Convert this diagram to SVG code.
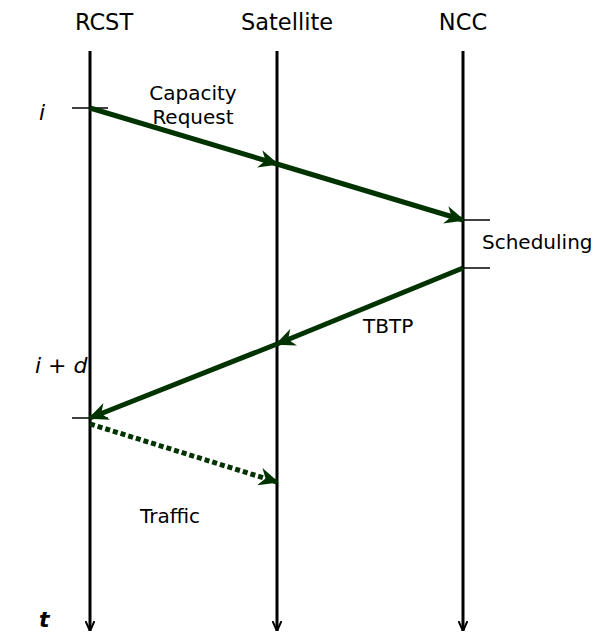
<svg xmlns="http://www.w3.org/2000/svg" width="595" height="633" viewBox="0 0 595 633">
<defs>
<style>
text{font-family:"DejaVu Sans",sans-serif;fill:#000}
.hdr{font-size:22.5px;text-anchor:middle}
.lbl{font-size:20px}
.life{stroke:#000;stroke-width:3;fill:none}
.tick{stroke:#000;stroke-width:1.5}
.msg{stroke:#003300;stroke-width:5;fill:none}
.dash{stroke:#003300;stroke-width:5;fill:none;stroke-dasharray:5 3}
</style>
<marker id="arr" viewBox="0 0 20 18" refX="18" refY="9" markerWidth="20" markerHeight="18" orient="auto" markerUnits="userSpaceOnUse">
<path d="M0,0 L20,9 L0,18 L6,9 z" fill="#003300"/>
</marker>
<marker id="down" viewBox="0 0 10 10" refX="10" refY="5" markerWidth="10" markerHeight="10" orient="auto" markerUnits="userSpaceOnUse">
<path d="M0,0.5 L10,5 L0,9.5" fill="none" stroke="#000" stroke-width="2"/>
</marker>
</defs>
<g id="rcst">
<text class="hdr" x="104" y="30">RCST</text>
<line class="life" x1="90" y1="51" x2="90" y2="631" marker-end="url(#down)"/>
</g>
<g id="satellite">
<text class="hdr" x="287" y="30">Satellite</text>
<line class="life" x1="277" y1="51" x2="277" y2="631" marker-end="url(#down)"/>
</g>
<g id="ncc">
<text class="hdr" x="463" y="30">NCC</text>
<line class="life" x1="463" y1="51" x2="463" y2="631" marker-end="url(#down)"/>
</g>
<g id="ticks">
<line class="tick" x1="72" y1="108" x2="108" y2="108"/>
<line class="tick" x1="463" y1="220" x2="490" y2="220"/>
<line class="tick" x1="463" y1="268" x2="490" y2="268"/>
<line class="tick" x1="72" y1="418" x2="108" y2="418"/>
</g>
<g id="labels">
<text x="39" y="120" font-style="italic" font-size="22">i</text>
<text x="35" y="373" font-style="italic" font-size="22">i + d</text>
<text x="39" y="627" font-style="italic" font-weight="bold" font-size="22">t</text>
<text class="lbl" x="193" y="100" text-anchor="middle">Capacity</text>
<text class="lbl" x="193" y="124" text-anchor="middle">Request</text>
<text class="lbl" x="482" y="249">Scheduling</text>
<text class="lbl" x="363" y="333">TBTP</text>
<text class="lbl" x="140" y="523">Traffic</text>
</g>
<g id="connectors">
<line class="msg" x1="90" y1="108" x2="277" y2="164" marker-end="url(#arr)"/>
<line class="msg" x1="277" y1="164" x2="463" y2="220" marker-end="url(#arr)"/>
<line class="msg" x1="463" y1="268" x2="277" y2="344" marker-end="url(#arr)"/>
<line class="msg" x1="277" y1="344" x2="90" y2="418" marker-end="url(#arr)"/>
<line class="dash" x1="90" y1="424" x2="277" y2="482" marker-end="url(#arr)"/>
</g>
</svg>
